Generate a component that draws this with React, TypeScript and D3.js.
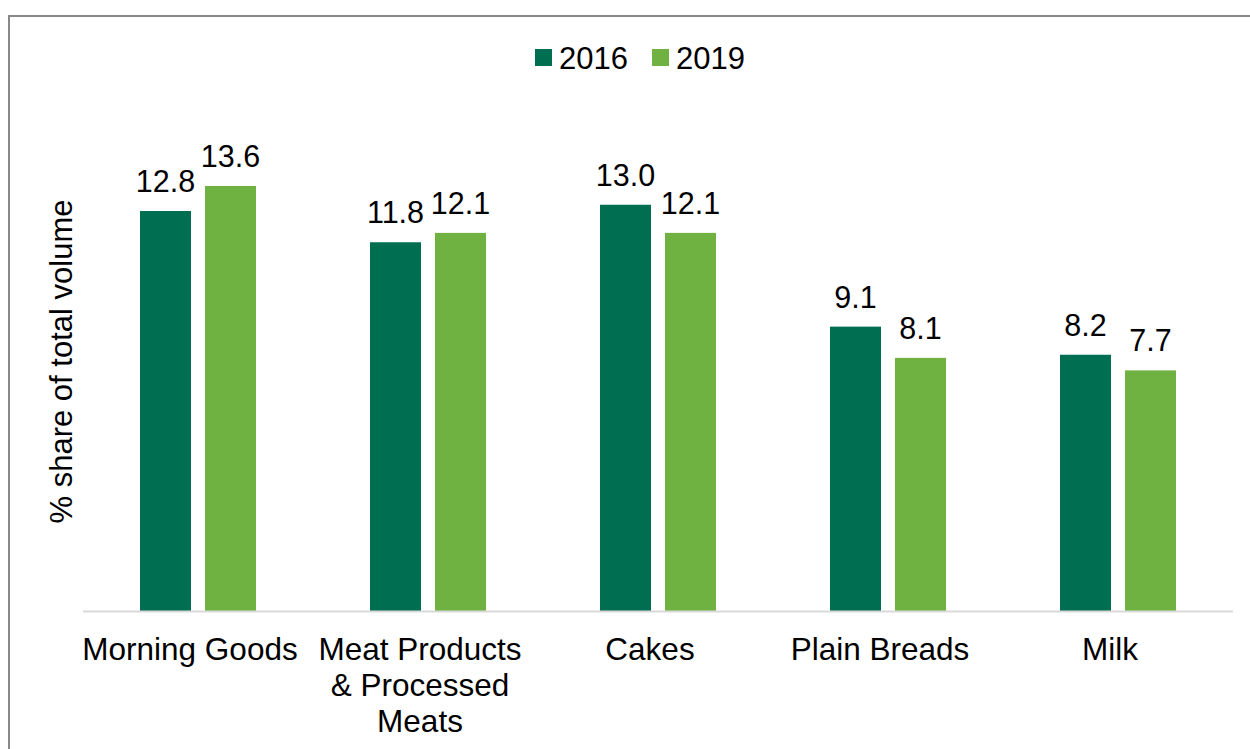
import React from "react";
import * as d3 from "d3";

const categories = ["Morning Goods", "Meat Products\n& Processed\nMeats", "Cakes", "Plain Breads", "Milk"];
const seriesNames = ["2016", "2019"];
const values2016 = [12.8, 11.8, 13.0, 9.1, 8.2];
const values2019 = [13.6, 12.1, 12.1, 8.1, 7.7];
const colors = ["#006F51", "#6FB242"];

const W = 1250;
const H = 749;
const FONT = "'Liberation Sans', Arial, Helvetica, sans-serif";

export default function App() {
  const x0 = 83, x1 = 1233, y0 = 611;
  const x = d3.scaleBand<number>().domain(d3.range(categories.length)).range([x0, x1]);
  const y = d3.scaleLinear().domain([0, 1]).range([y0, y0 - 31.25]);
  const barW = 51, gap = 14;
  const series = [values2016, values2019];

  return (
    <svg width={W} height={H} style={{ position: "absolute", left: 0, top: 0, background: "#fff" }}>
      <rect x={0} y={0} width={W} height={H} fill="#fff" />
      <rect x={9} y={16} width={W + 20} height={H + 20} fill="none" stroke="#898989" strokeWidth={2} />
      {/* legend */}
      {seriesNames.map((s, i) => {
        const lx = 535 + i * 117;
        return (
          <g key={s}>
            <rect x={lx} y={49} width={17} height={17} fill={colors[i]} />
            <text x={lx + 24} y={68.5} fontFamily={FONT} fontSize={31} fill="#000">{s}</text>
          </g>
        );
      })}
      {/* y title */}
      <text
        transform={`translate(72, ${(200 + 523) / 2}) rotate(-90)`}
        textAnchor="middle"
        fontFamily={FONT}
        fontSize={31}
        fill="#000"
      >
        % share of total volume
      </text>
      {/* bars */}
      {categories.map((c, ci) => {
        const cx = (x(ci) as number) + x.bandwidth() / 2;
        return (
          <g key={ci}>
            {series.map((vals, si) => {
              const bx = cx - (barW * 2 + gap) / 2 + si * (barW + gap);
              const v = vals[ci];
              return (
                <g key={si}>
                  <rect x={bx} y={y(v)} width={barW} height={y0 - y(v)} fill={colors[si]} />
                  <text x={bx + barW / 2} y={y(v) - 19} textAnchor="middle" fontFamily={FONT} fontSize={30.5} fill="#000">
                    {v.toFixed(1)}
                  </text>
                </g>
              );
            })}
            <text textAnchor="middle" fontFamily={FONT} fontSize={31.5} fill="#000">
              {c.split("\n").map((line, li) => (
                <tspan key={li} x={cx - 8} y={660 + li * 36}>{line}</tspan>
              ))}
            </text>
          </g>
        );
      })}
      <line x1={x0} x2={x1} y1={y0 + 0.5} y2={y0 + 0.5} stroke="#d9d9d9" strokeWidth={2} />
    </svg>
  );
}
